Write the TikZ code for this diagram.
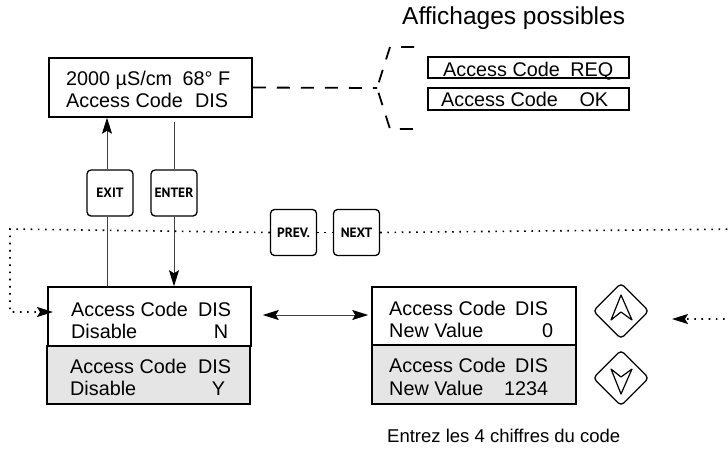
\documentclass[tikz,border=0pt]{standalone}
\usepackage{fontspec}
\setmainfont{Liberation Sans}
\newfontfamily\btnfont{PT Sans}
\usetikzlibrary{arrows.meta,shapes.geometric}
\tikzset{
  lcd/.style={draw, line width=1.5pt, inner sep=0pt},
  lcdgray/.style={lcd, fill=black!10},
  txt/.style={inner sep=0pt, anchor=base west, font=\fontsize{19.8}{22}\selectfont},
  btn/.style={draw, rounded corners=4pt, line width=1.3pt, minimum width=46pt, minimum height=46pt, inner sep=0pt, font=\btnfont\bfseries\fontsize{13.5}{15}\selectfont},
  keyd/.style={diamond, draw, rounded corners=4pt, minimum width=56pt, minimum height=56pt, inner sep=0pt, line width=1.3pt},
  flow/.style={line width=0.9pt, draw=black!75},
  tipend/.style={-{Stealth[length=16pt,width=10pt,inset=3pt,color=black]}},
  dotline/.style={line width=1.6pt, dash pattern=on 1.6pt off 5.6pt},
  dashline/.style={line width=1.8pt, dash pattern=on 13pt off 11pt},
}
\begin{document}
\begin{tikzpicture}[x=1pt,y=-1pt]
\useasboundingbox (0,0) rectangle (728,456);
\clip (0,0) rectangle (728,456);

% title
\node[inner sep=0pt, anchor=base west, font=\fontsize{24.5}{27}\selectfont] (title) at (402,24) {Affichages possibles};

% top display
\node[lcd, minimum width=203pt, minimum height=59pt] (top) at (150.5,87.5) {};
\node[txt] (t1) at (66,85) {\makebox[164pt][l]{2000 µS/cm\hfill 68° F}};
\node[txt] (t2) at (66,107) {\makebox[162pt][l]{Access Code\hfill DIS}};

% possible displays
\node[lcd, minimum width=201pt, minimum height=21pt] (req) at (528.5,67.5) {};
\node[txt] (reqt) at (443,76) {\makebox[170pt][l]{Access Code\hfill REQ}};
\node[lcd, minimum width=201pt, minimum height=22pt] (ok) at (528.5,99) {};
\node[txt] (okt) at (441,106) {\makebox[167pt][l]{Access Code\hfill OK}};

% dashed brace
\coordinate (apex) at (377,88);
\coordinate (bt1) at (414,47);
\coordinate (bt2) at (390,47);
\coordinate (bb2) at (390,129);
\coordinate (bb1) at (414,129);
\draw[dashline] (top.east) -- (apex);
\draw[dashline] (bt1) -- (bt2) -- (apex) -- (bb2) -- (bb1);

% buttons
\node[btn] (exit) at (110,193) {EXIT};
\node[btn] (enter) at (174,193) {ENTER};
\node[btn] (prev) at (293.5,232.5) {PREV.};
\node[btn] (next) at (356.5,232.5) {NEXT};

% disable boxes
\node[lcd, fill=white, minimum width=203pt, minimum height=59pt] (boxN) at (149.5,316.5) {};
\node[lcdgray, minimum width=203pt, minimum height=58pt] (boxY) at (148.5,375) {};
\node[txt] (n1) at (71,316) {\makebox[160pt][l]{Access Code\hfill DIS}};
\node[txt] (n2) at (71,338) {\makebox[157pt][l]{Disable\hfill N}};
\node[txt] (y1) at (70,373) {\makebox[161pt][l]{Access Code\hfill DIS}};
\node[txt] (y2) at (70,395) {\makebox[155pt][l]{Disable\hfill Y}};

% new value boxes
\node[lcd, fill=white, minimum width=204pt, minimum height=58pt] (boxV0) at (474,316) {};
\node[lcdgray, minimum width=204pt, minimum height=59pt] (boxV1) at (474,374.5) {};
\node[txt] (v1) at (389,315) {\makebox[159pt][l]{Access Code\hfill DIS}};
\node[txt] (v2) at (389,337) {\makebox[164pt][l]{New Value\hfill 0}};
\node[txt] (w1) at (389,372) {\makebox[159pt][l]{Access Code\hfill DIS}};
\node[txt] (w2) at (389,395) {\makebox[159pt][l]{New Value\hfill 1234}};

% arrow keys
\node[keyd] (up) at (621,311) {};
\node[keyd] (down) at (621,378) {};
\draw[line width=1.2pt, line join=round] (up.center) +(0,-16) -- +(11,9) -- +(0,1) -- +(-10,9) -- cycle;
\draw[line width=1.2pt, line join=round] (down.center) +(0,16) -- +(11,-9) -- +(0,-1) -- +(-10,-9) -- cycle;

% bottom caption
\node[inner sep=0pt, anchor=base west, font=\fontsize{18.5}{22}\selectfont] (cap) at (387,442) {Entrez les 4 chiffres du code};

% EXIT / ENTER connectors
\draw[flow] ([xshift=-3pt]exit.south) -- ([xshift=-3pt]exit.south |- boxN.north);
\draw[flow, tipend] ([xshift=-3pt]exit.north) -- ([xshift=-3pt]exit.north |- top.south);
\draw[flow, shorten <=4pt] (enter.north |- top.south) -- (enter.north);
\draw[flow, tipend] (enter.south) -- (enter.south |- boxN.north);

% double arrow
\draw[flow, {Stealth[length=16pt,width=10pt,inset=3pt,color=black]}-{Stealth[length=16pt,width=10pt,inset=3pt,color=black]}, shorten <=11pt, shorten >=3pt] ([yshift=1.5pt]boxN.east) -- ([yshift=1.5pt]boxV0.west |- boxN.east);

% dotted loops
\coordinate (in1) at (53,312);
\coordinate (in2) at (672,319);
\draw[dotline] (prev.east) -- (next.west);
\draw[dotline, tipend] (prev.west) -- (10,229) -- (10,312) -- (in1);
\draw[dotline, tipend] (next.east) -- (745,229) -- (745,319) -- (in2);
\end{tikzpicture}
\end{document}
